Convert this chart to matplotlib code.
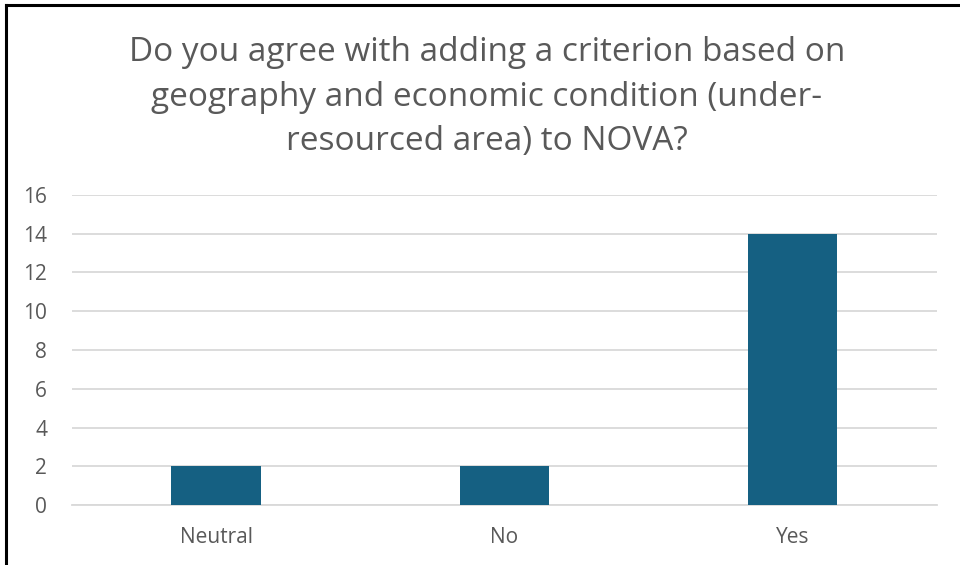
import matplotlib
matplotlib.use("Agg")
import matplotlib.pyplot as plt
from matplotlib.lines import Line2D

categories = ["Neutral", "No", "Yes"]
counts = [2, 2, 14]
yticks = [0, 2, 4, 6, 8, 10, 12, 14, 16]
title = ("Do you agree with adding a criterion based on\n"
         "geography and economic condition (under-\n"
         "resourced area) to NOVA?")

plt.rcParams["font.family"] = ["Open Sans", "DejaVu Sans"]
text_color = "#595959"
bar_color = "#156082"
grid_color = "#d9d9d9"

fig = plt.figure(figsize=(9.6, 5.65), dpi=100)
ax = fig.add_axes([0.075, 0.106, 0.901, 0.549])

x = range(len(categories))
ax.bar(x, counts, width=0.31, color=bar_color, zorder=3)
ax.set_xlim(-0.5, len(categories) - 0.5)
ax.set_ylim(0, 16)
ax.set_yticks(yticks)
ax.set_xticks(list(x))
ax.set_xticklabels(categories)
ax.yaxis.grid(True, color=grid_color, linewidth=1.3, zorder=0)
ax.set_axisbelow(True)
for s in ["top", "right", "left"]:
    ax.spines[s].set_visible(False)
ax.spines["bottom"].set_color(grid_color)
ax.spines["bottom"].set_linewidth(1.3)
ax.tick_params(axis="both", length=0, labelsize=15, labelcolor=text_color)
ax.tick_params(axis="y", pad=18)
ax.tick_params(axis="x", pad=16)

fig.text(0.507, 0.828, title, ha="center", va="center", fontsize=24,
         color=text_color, linespacing=1.45)

# chart frame lines along the top and left edges
fig.add_artist(Line2D([0.0065, 1.0], [0.991, 0.991], transform=fig.transFigure,
                      color="black", linewidth=2.2))
fig.add_artist(Line2D([0.0065, 0.0065], [0.0, 0.991], transform=fig.transFigure,
                      color="black", linewidth=2.2))

fig.savefig("out.png", dpi=100)
